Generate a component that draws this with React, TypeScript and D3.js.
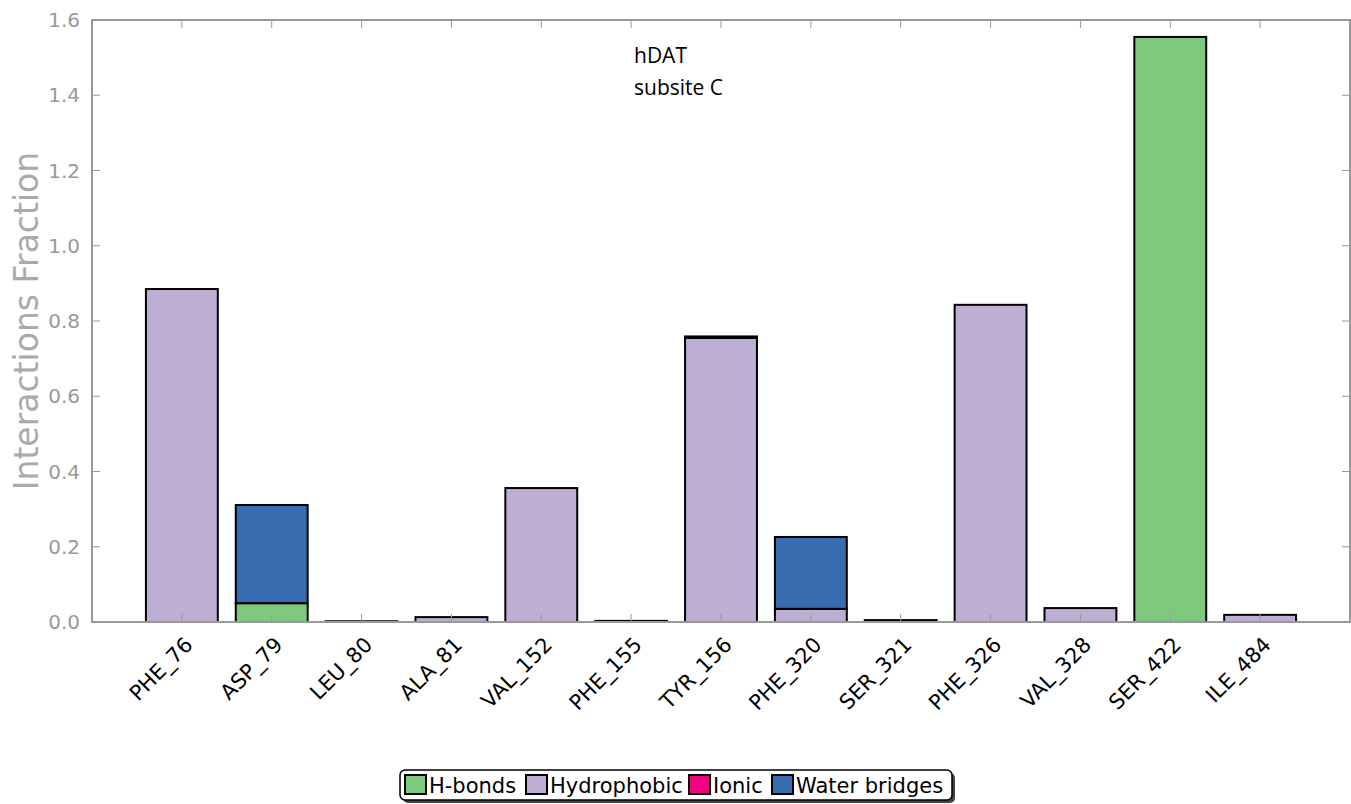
import React from "react";
import * as d3 from "d3";

const residues = ["PHE_76","ASP_79","LEU_80","ALA_81","VAL_152","PHE_155","TYR_156","PHE_320","SER_321","PHE_326","VAL_328","SER_422","ILE_484"];
const hbonds =       [0,    0.05, 0,     0,     0,     0,     0,     0,     0,     0,     0,     1.555, 0];
const hydrophobic =  [0.885,0,    0.002, 0.013, 0.356, 0.003, 0.755, 0.035, 0,     0.843, 0.037, 0,     0.019];
const ionic =        [0,    0,    0,     0,     0,     0,     0,     0,     0,     0,     0,     0,     0];
const waterBridges = [0,    0.261,0,     0,     0,     0,     0.004, 0.191, 0.005, 0,     0,     0,     0];
const yTicks = [0, 0.2, 0.4, 0.6, 0.8, 1.0, 1.2, 1.4, 1.6];
const seriesNames = ["H-bonds", "Hydrophobic", "Ionic", "Water bridges"];
const seriesColors = ["#7fc97f", "#beaed4", "#f0027f", "#386cb0"];

export default function App() {
  const W = 1351, H = 804;
  const left = 92, right = 1350, top = 20, bottom = 622;
  const x = d3.scaleLinear().domain([-1, 13]).range([left, right]);
  const y = d3.scaleLinear().domain([0, 1.6]).range([bottom, top]);
  const seriesVals = [hbonds, hydrophobic, ionic, waterBridges];
  const bw = x(0.4) - x(-0.4);

  const rects: any[] = [];
  residues.forEach((r, i) => {
    let base = 0;
    seriesVals.forEach((vals, s) => {
      const v = vals[i];
      if (v > 0) {
        rects.push(
          <rect key={`${i}-${s}`} x={x(i) - bw / 2} y={y(base + v)} width={bw} height={y(base) - y(base + v)}
            fill={seriesColors[s]} stroke="#000" strokeWidth={2} />
        );
      }
      base += v;
    });
  });

  const axisColor = "#999";
  const legendX = 400, legendY = 770;
  const itemOffsets = [0, 121, 284, 367];

  return (
    <svg width={W} height={H} style={{ position: "absolute", left: 0, top: 0, background: "#fff" }}
      fontFamily="DejaVu Sans">
      <rect x={0} y={0} width={W} height={H} fill="#fff" />
      {rects}
      <rect x={left} y={top} width={right - left} height={bottom - top} fill="none" stroke={axisColor} strokeWidth={2} />
      {yTicks.map((t) => (
        <g key={t}>
          <line x1={left} x2={left + 8} y1={y(t)} y2={y(t)} stroke={axisColor} strokeWidth={1} />
          <line x1={right - 8} x2={right} y1={y(t)} y2={y(t)} stroke={axisColor} strokeWidth={1} />
          <text x={left - 12} y={y(t)} dy="0.36em" textAnchor="end" fontSize={20} fill={axisColor}>{t.toFixed(1)}</text>
        </g>
      ))}
      {residues.map((r, i) => (
        <g key={r}>
          <line x1={x(i)} x2={x(i)} y1={bottom} y2={bottom - 8} stroke={axisColor} strokeWidth={1} />
          <line x1={x(i)} x2={x(i)} y1={top} y2={top + 8} stroke={axisColor} strokeWidth={1} />
          <text transform={`translate(${x(i) + 1},${bottom + 13}) rotate(-45)`} textAnchor="end" dy="0.75em"
            fontSize={21} fill="#000">{r}</text>
        </g>
      ))}
      <text transform={`translate(38,${(top + bottom) / 2}) rotate(-90)`} textAnchor="middle" fontSize={33} fill="#aaa">
        Interactions Fraction
      </text>
      <text x={634} y={63} fontFamily="Open Sans" fontSize={21} fill="#000">hDAT</text>
      <text x={634} y={95} fontFamily="Open Sans" fontSize={21} fill="#000">subsite C</text>
      <rect x={legendX + 3} y={legendY + 3} width={552} height={30} rx={5} fill="#444" />
      <rect x={legendX} y={legendY} width={552} height={30} rx={5} fill="#fff" stroke="#000" strokeWidth={1.5} />
      {seriesNames.map((n, s) => (
        <g key={n} transform={`translate(${legendX + 5 + itemOffsets[s]},${legendY + 5})`}>
          <rect x={0} y={0} width={21} height={19} fill={seriesColors[s]} stroke="#000" strokeWidth={2} />
          <text x={24} y={10} dy="0.36em" fontSize={21} fill="#000">{n}</text>
        </g>
      ))}
    </svg>
  );
}
